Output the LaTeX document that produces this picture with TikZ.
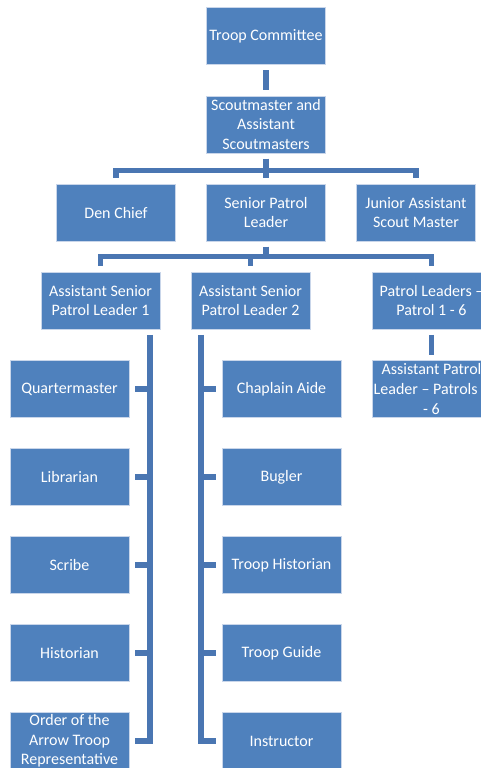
\documentclass[tikz,border=0pt]{standalone}
\usepackage{fontspec}
\setmainfont{Carlito}
\definecolor{boxblue}{HTML}{4F81BD}
\definecolor{boxedge}{HTML}{C9D6EA}
\definecolor{connblue}{HTML}{4A76B2}
\begin{document}
\begin{tikzpicture}[x=1pt,y=-1pt,
  box/.style={rectangle, fill=boxblue, draw=boxedge, line width=0.8pt,
    minimum width=119pt, minimum height=57pt, inner sep=0pt,
    text=white, align=center, font=\fontsize{16}{19.7}\selectfont},
  conn/.style={draw=connblue, line width=5.5pt},
  gap/.style={shorten <=5.5pt, shorten >=5.5pt}]
\useasboundingbox (0,0) rectangle (481,768);
\clip (0,0) rectangle (481,768);
\fill[white] (0,0) rectangle (481,768);
% nodes
\node[box] (tc) at (266,36) {Troop Committee};
\node[box] (sm) at (266,124.5) {Scoutmaster and\\Assistant\\Scoutmasters};
\node[box] (den) at (116,212.5) {Den Chief};
\node[box] (spl) at (266,212.5) {Senior Patrol\\Leader};
\node[box] (jasm) at (416,212.5) {Junior Assistant\\Scout Master};
\node[box] (aspl1) at (100.5,300.5) {Assistant Senior\\Patrol Leader 1};
\node[box] (aspl2) at (250.5,300.5) {Assistant Senior\\Patrol Leader 2};
\node[box] (pl) at (431.5,300.5) {Patrol Leaders –\\Patrol 1 - 6};
\node[box] (apl) at (431.5,389) {Assistant Patrol\\Leader – Patrols 1\\- 6};
\node[box] (qm) at (69.5,389) {Quartermaster};
\node[box] (lib) at (69.5,477) {Librarian};
\node[box] (scr) at (69.5,565) {Scribe};
\node[box] (his) at (69.5,653) {Historian};
\node[box] (oa) at (69.5,741) {Order of the\\Arrow Troop\\Representative};
\node[box] (ca) at (281.5,389) {Chaplain Aide};
\node[box] (bug) at (281.5,477) {Bugler};
\node[box] (th) at (281.5,565) {Troop Historian};
\node[box] (tg) at (281.5,653) {Troop Guide};
\node[box] (ins) at (281.5,741) {Instructor};
\coordinate (vx1) at (150,0);
\coordinate (vx2) at (201,0);
% connectors
\draw[conn,gap] (tc) -- (sm);
\draw[conn,gap] (sm.south) -- ++(0,17) -| (den.north);
\draw[conn,gap] (sm.south) -- ++(0,17) -| (jasm.north);
\draw[conn,gap] (sm) -- (spl);
\draw[conn,gap] (spl.south) -- ++(0,15) -| (aspl1.north);
\draw[conn,gap] (spl.south) -- ++(0,15) -| (aspl2.north);
\draw[conn,gap] (spl.south) -- ++(0,15) -| (pl.north);
\draw[conn,gap] (pl) -- (apl);
\draw[conn,gap] (aspl1.south -| vx1) |- (oa.east);
\foreach \c in {qm,lib,scr,his}{\draw[conn,shorten >=5.5pt] (\c.east -| vx1) -- (\c.east);}
\draw[conn,gap] (aspl2.south -| vx2) |- (ins.west);
\foreach \c in {ca,bug,th,tg}{\draw[conn,shorten >=5.5pt] (\c.west -| vx2) -- (\c.west);}
\end{tikzpicture}
\end{document}
